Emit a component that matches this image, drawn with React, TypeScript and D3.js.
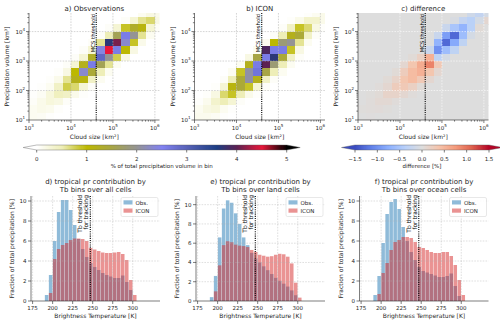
import React from "react";
import * as d3 from "d3";

// log10 bin edges of the 2d histograms
const sizeEdgesLog = [3.0, 3.2, 3.4, 3.6, 3.8, 4.0, 4.2, 4.4, 4.6, 4.8, 5.0, 5.2, 5.4, 5.6, 5.8, 6.0, 6.2];
const volEdgesLog = [1.0, 1.25, 1.5, 1.75, 2.0, 2.25, 2.5, 2.75, 3.0, 3.25, 3.5, 3.75, 4.0, 4.25, 4.5, 4.75];

// % of total precipitation volume per bin, first row = largest volume bin
const obsGrid = [
  [0, 0, 0, 0, 0, 0, 0, 0, 0, 0, 0, 0, 0, 0.1, 0.2, 0.15],
  [0, 0, 0, 0, 0, 0, 0, 0, 0, 0, 0, 0.05, 0.3, 0.6, 0.7, 0.2],
  [0, 0, 0, 0, 0, 0, 0, 0, 0, 0.05, 0.3, 0.9, 1.3, 1.1, 0.3, 0.05],
  [0, 0, 0, 0, 0, 0, 0, 0, 0.05, 0.5, 1.6, 2.6, 2.0, 0.6, 0.1, 0],
  [0, 0, 0, 0, 0, 0, 0, 0.05, 0.6, 3.7, 4.1, 2.3, 0.9, 0.15, 0, 0],
  [0, 0, 0, 0, 0, 0, 0.05, 0.3, 2.4, 4.5, 2.6, 1.0, 0.2, 0, 0, 0],
  [0, 0, 0, 0, 0, 0.05, 0.3, 1.3, 2.9, 2.0, 0.8, 0.2, 0, 0, 0, 0],
  [0, 0, 0, 0, 0.05, 0.3, 1.2, 2.6, 1.6, 0.6, 0.1, 0, 0, 0, 0, 0],
  [0, 0, 0, 0.03, 0.2, 1.0, 2.3, 1.4, 0.5, 0.1, 0, 0, 0, 0, 0, 0],
  [0, 0, 0.03, 0.15, 0.6, 1.2, 1.1, 0.4, 0.1, 0, 0, 0, 0, 0, 0, 0],
  [0, 0.02, 0.1, 0.4, 0.8, 0.7, 0.3, 0.05, 0, 0, 0, 0, 0, 0, 0, 0],
  [0.02, 0.08, 0.25, 0.45, 0.4, 0.15, 0.03, 0, 0, 0, 0, 0, 0, 0, 0, 0],
  [0.05, 0.15, 0.25, 0.2, 0.05, 0, 0, 0, 0, 0, 0, 0, 0, 0, 0, 0],
  [0.1, 0.15, 0.12, 0.03, 0, 0, 0, 0, 0, 0, 0, 0, 0, 0, 0, 0],
  [0.1, 0.08, 0.02, 0, 0, 0, 0, 0, 0, 0, 0, 0, 0, 0, 0, 0],
];

const iconGrid = [
  [0, 0, 0, 0, 0, 0, 0, 0, 0, 0, 0, 0, 0, 0.03, 0.1, 0.15],
  [0, 0, 0, 0, 0, 0, 0, 0, 0, 0, 0, 0.03, 0.15, 0.35, 0.35, 0.15],
  [0, 0, 0, 0, 0, 0, 0, 0, 0, 0, 0.05, 0.4, 0.9, 0.7, 0.2, 0.03],
  [0, 0, 0, 0, 0, 0, 0, 0, 0, 0.05, 0.5, 1.2, 1.4, 0.4, 0.05, 0],
  [0, 0, 0, 0, 0, 0, 0, 0, 0.1, 1.0, 1.8, 2.0, 0.6, 0.1, 0, 0],
  [0, 0, 0, 0, 0, 0, 0, 0.1, 3.9, 2.6, 2.6, 0.9, 0.2, 0, 0, 0],
  [0, 0, 0, 0, 0, 0, 0.2, 1.5, 2.6, 3.7, 1.4, 0.4, 0.05, 0, 0, 0],
  [0, 0, 0, 0, 0, 0.1, 1.2, 2.6, 4.0, 1.8, 0.5, 0.1, 0, 0, 0, 0],
  [0, 0, 0, 0, 0.1, 0.9, 2.1, 2.7, 1.5, 0.5, 0.1, 0, 0, 0, 0, 0],
  [0, 0, 0, 0.05, 0.5, 1.4, 2.1, 1.2, 0.4, 0.05, 0, 0, 0, 0, 0, 0],
  [0, 0, 0.03, 0.3, 1.1, 1.4, 0.9, 0.3, 0.05, 0, 0, 0, 0, 0, 0, 0],
  [0, 0.03, 0.2, 0.7, 0.9, 0.5, 0.15, 0.03, 0, 0, 0, 0, 0, 0, 0, 0],
  [0.03, 0.12, 0.35, 0.5, 0.3, 0.05, 0, 0, 0, 0, 0, 0, 0, 0, 0, 0],
  [0.1, 0.2, 0.25, 0.1, 0.02, 0, 0, 0, 0, 0, 0, 0, 0, 0, 0, 0],
  [0.12, 0.12, 0.08, 0.02, 0, 0, 0, 0, 0, 0, 0, 0, 0, 0, 0, 0],
];

const diffGrid = [
  [0, 0, 0, 0, 0, 0, 0, 0, 0, 0, 0, 0, 0, -0.15, -0.25, -0.1],
  [0, 0, 0, 0, 0, 0, 0, 0, 0, 0, 0, -0.05, -0.25, -0.35, -0.1, 0.1],
  [0, 0, 0, 0, 0, 0, 0, 0, 0, 0, -0.2, -0.5, -0.7, -0.35, 0.05, 0],
  [0, 0, 0, 0, 0, 0, 0, 0, 0, -0.2, -0.9, -1.3, -0.6, -0.1, 0, 0],
  [0, 0, 0, 0, 0, 0, 0, 0, 0, -0.7, -1.3, -0.8, -0.3, 0, 0, 0],
  [0, 0, 0, 0, 0, 0, 0, 0, -0.2, -1.0, -0.6, -0.3, 0, 0, 0, 0],
  [0, 0, 0, 0, 0, 0, 0.05, 0.2, 0.55, -0.3, -0.1, 0, 0, 0, 0, 0],
  [0, 0, 0, 0, 0, 0.1, 0.35, 0.6, 0.9, 0.3, 0, 0, 0, 0, 0, 0],
  [0, 0, 0, 0, 0.05, 0.25, 0.45, 0.55, 0.35, 0.1, 0, 0, 0, 0, 0, 0],
  [0, 0, 0, 0.05, 0.15, 0.35, 0.45, 0.3, 0.1, 0, 0, 0, 0, 0, 0, 0],
  [0, 0, 0.03, 0.1, 0.25, 0.3, 0.2, 0.05, 0, 0, 0, 0, 0, 0, 0, 0],
  [0, 0.02, 0.05, 0.15, 0.15, 0.1, 0.03, 0, 0, 0, 0, 0, 0, 0, 0, 0],
  [0, 0.03, 0.08, 0.08, 0.03, 0, 0, 0, 0, 0, 0, 0, 0, 0, 0, 0],
  [0.02, 0.03, 0.04, 0.02, 0, 0, 0, 0, 0, 0, 0, 0, 0, 0, 0, 0],
  [0, 0.01, 0, 0, 0, 0, 0, 0, 0, 0, 0, 0, 0, 0, 0, 0],
];

// brightness temperature histograms (5 K bins, left edges)
const tbBinStart = [190, 195, 200, 205, 210, 215, 220, 225, 230, 235, 240, 245, 250, 255, 260, 265, 270, 275, 280, 285, 290, 295, 300];
const allObs = [0.6, 2.6, 6.0, 8.9, 10.1, 10.1, 9.1, 7.6, 6.2, 5.2, 4.4, 3.8, 3.4, 3.1, 2.8, 2.6, 2.45, 2.3, 2.3, 2.55, 1.9, 1.1, 0];
const allIcon = [0, 0.8, 4.2, 5.2, 5.6, 5.8, 6.1, 6.25, 6.25, 6.2, 6.0, 5.3, 5.15, 5.0, 4.85, 4.8, 4.8, 4.85, 4.9, 4.7, 4.1, 2.1, 0.6];
const landObs = [0.4, 2.6, 6.6, 9.6, 10.45, 10.2, 9.1, 8.0, 6.6, 5.8, 5.0, 4.4, 4.0, 3.6, 3.2, 2.8, 2.4, 2.1, 1.8, 1.5, 1.1, 0.6, 0];
const landIcon = [0, 1.0, 3.7, 5.8, 6.2, 6.1, 5.85, 5.75, 5.7, 5.6, 5.3, 5.1, 4.8, 4.7, 4.6, 4.65, 4.8, 4.9, 4.85, 4.6, 3.9, 1.9, 0.35];
const oceanObs = [0.6, 2.5, 5.8, 8.7, 9.9, 10.2, 9.2, 7.4, 6.0, 4.9, 4.1, 3.4, 3.0, 2.85, 2.7, 2.55, 2.4, 2.4, 2.5, 2.75, 1.5, 0.5, 0];
const oceanIcon = [0, 0.7, 2.8, 3.8, 5.1, 5.9, 6.1, 6.4, 6.4, 6.3, 5.9, 5.4, 5.3, 5.1, 4.9, 4.8, 4.8, 4.9, 4.9, 4.5, 3.6, 2.1, 0.6];

const mcsThreshold = 4e4;
const tbThreshold = 247;

const volStops = [0, 0.5, 1, 1.5, 2, 2.5, 3, 3.6, 4, 4.5, 5];
const volColors = ["#ffffff", "#eeeeb8", "#bcb800", "#a7a545", "#949494", "#8282f2", "#5862b8", "#1c3e84", "#5c2152", "#e8173a", "#000000"];
const diffStops = [-1.5, -1.125, -0.75, -0.375, 0, 0.375, 0.75, 1.125, 1.5];
const diffColors = ["#3b4cc0", "#6282ea", "#8db0fe", "#b8d0f9", "#dddddd", "#f5c4ac", "#f49a7b", "#de604d", "#b40426"];

const FONT = "'DejaVu Sans', sans-serif";
const INK = "#262626";

const volColor = d3.scaleLinear<string>().domain(volStops).range(volColors).clamp(true);
const diffColor = d3.scaleLinear<string>().domain(diffStops).range(diffColors).clamp(true);

function Pow({ x, y, exp, anchor }: { x: number; y: number; exp: number; anchor: string }) {
  return (
    <text x={x} y={y} textAnchor={anchor} fontSize={5.5} fill={INK}>
      10
      <tspan fontSize={4} dy={-2.6}>
        {exp}
      </tspan>
    </text>
  );
}

function HeatPanel({ left, title, grid, color, gridStroke, id }: any) {
  const top = 13;
  const bottom = 120;
  const width = 130.5;
  const x = d3.scaleLog().domain([1e3, 10 ** 6.11]).range([left, left + width]);
  const y = d3.scaleLog().domain([10, 10 ** 4.63]).range([bottom, top]);
  const n = grid.length;

  const cells: any[] = [];
  grid.forEach((row: number[], r: number) => {
    const j = n - 1 - r;
    row.forEach((v, i) => {
      const x0 = x(10 ** sizeEdgesLog[i]);
      const x1 = x(10 ** sizeEdgesLog[i + 1]);
      const y0 = y(10 ** volEdgesLog[j + 1]);
      const y1 = y(10 ** volEdgesLog[j]);
      cells.push(<rect key={`${r}-${i}`} x={x0} y={y0} width={x1 - x0 + 0.3} height={y1 - y0 + 0.3} fill={color(v)} />);
    });
  });

  const xMajor = [1e3, 1e4, 1e5, 1e6];
  const yMajor = [1e1, 1e2, 1e3, 1e4];
  const xMinor: number[] = [];
  [1e3, 1e4, 1e5, 1e6].forEach((d) => d3.range(2, 10).forEach((m) => m * d <= 10 ** 6.11 && xMinor.push(m * d)));
  const yMinor: number[] = [];
  [1e1, 1e2, 1e3, 1e4].forEach((d) => d3.range(2, 10).forEach((m) => m * d <= 10 ** 4.63 && yMinor.push(m * d)));
  const mx = x(mcsThreshold);

  return (
    <g>
      <defs>
        <clipPath id={id}>
          <rect x={left} y={top} width={width} height={bottom - top} />
        </clipPath>
      </defs>
      <g clipPath={`url(#${id})`} shapeRendering="crispEdges">
        {cells}
      </g>
      <g stroke={gridStroke} strokeWidth={0.6} strokeDasharray="1.6,1.2">
        {xMajor.slice(1).map((d) => (
          <line key={d} x1={x(d)} x2={x(d)} y1={top} y2={bottom} />
        ))}
        {yMajor.slice(1).map((d) => (
          <line key={d} x1={left} x2={left + width} y1={y(d)} y2={y(d)} />
        ))}
      </g>
      <line x1={mx} x2={mx} y1={top} y2={bottom} stroke="#000" strokeWidth={1.1} strokeDasharray="1.1,1.1" />
      <text transform={`translate(${mx - 1.5},${top + 1}) rotate(-90)`} textAnchor="end" fontSize={5.3} fill="#000">
        MCS threshold
      </text>
      <g stroke={INK} strokeWidth={0.6}>
        <line x1={left} x2={left} y1={top} y2={bottom} />
        <line x1={left} x2={left + width} y1={bottom} y2={bottom} />
        {xMajor.map((d) => (
          <line key={d} x1={x(d)} x2={x(d)} y1={bottom} y2={bottom + 3} />
        ))}
        {xMinor.map((d) => (
          <line key={d} x1={x(d)} x2={x(d)} y1={bottom} y2={bottom + 1.6} />
        ))}
        {yMajor.map((d) => (
          <line key={d} x1={left} x2={left - 3} y1={y(d)} y2={y(d)} />
        ))}
        {yMinor.map((d) => (
          <line key={d} x1={left} x2={left - 1.6} y1={y(d)} y2={y(d)} />
        ))}
      </g>
      {xMajor.map((d) => (
        <Pow key={d} x={x(d)} y={130} exp={Math.round(Math.log10(d))} anchor="middle" />
      ))}
      {yMajor.map((d) => (
        <Pow key={d} x={left - 4} y={y(d) + 2} exp={Math.round(Math.log10(d))} anchor="end" />
      ))}
      <text x={left + width / 2} y={10.5} textAnchor="middle" fontSize={7} fill={INK}>
        {title}
      </text>
      <text x={left + width / 2} y={138.5} textAnchor="middle" fontSize={6} fill={INK}>
        Cloud size [km²]
      </text>
      <text transform={`translate(${left - 20},${(top + bottom) / 2}) rotate(-90)`} textAnchor="middle" fontSize={6} fill={INK}>
        Precipitation volume [km³]
      </text>
    </g>
  );
}

function BarPanel({ left, yMax, obs, icon, title1, title2 }: any) {
  const top = 196;
  const bottom = 301;
  const width = 129;
  const x = d3.scaleLinear().domain([173, 334]).range([left, left + width]);
  const y = d3.scaleLinear().domain([0, yMax]).range([bottom, top]);
  const xTicks = [175, 200, 225, 250, 275, 300];
  const yTicks = [0, 2, 4, 6, 8, 10];
  const tx = x(tbThreshold);
  const bars = (vals: number[], fill: string) =>
    tbBinStart.map((b, i) => (
      <rect key={b} x={x(b + 0.3)} width={x(b + 4.7) - x(b + 0.3)} y={y(vals[i])} height={y(0) - y(vals[i])} fill={fill} fillOpacity={0.5} />
    ));
  const lx = left + 90;
  return (
    <g>
      {bars(obs, "#1f77b4")}
      {bars(icon, "#d62728")}
      <g stroke="#b0b0b0" strokeWidth={0.5} strokeDasharray="1.6,1.2" strokeOpacity={0.8}>
        {xTicks.map((d) => (
          <line key={d} x1={x(d)} x2={x(d)} y1={top} y2={bottom} />
        ))}
        {yTicks.slice(1).map((d) => (
          <line key={d} x1={left} x2={left + width} y1={y(d)} y2={y(d)} />
        ))}
      </g>
      <line x1={tx} x2={tx} y1={top} y2={bottom} stroke="#000" strokeWidth={1.1} strokeDasharray="1.1,1.1" />
      <text transform={`translate(${tx - 8},${top - 1}) rotate(-90)`} textAnchor="end" fontSize={6} fill="#000">
        Tb threshold
      </text>
      <text transform={`translate(${tx - 2.2},${top - 1}) rotate(-90)`} textAnchor="end" fontSize={6} fill="#000">
        for tracking
      </text>
      <g stroke={INK} strokeWidth={0.6}>
        <line x1={left} x2={left} y1={top} y2={bottom} />
        <line x1={left} x2={left + width} y1={bottom} y2={bottom} />
        {xTicks.map((d) => (
          <line key={d} x1={x(d)} x2={x(d)} y1={bottom} y2={bottom + 3} />
        ))}
        {yTicks.map((d) => (
          <line key={d} x1={left} x2={left - 3} y1={y(d)} y2={y(d)} />
        ))}
      </g>
      {xTicks.map((d) => (
        <text key={d} x={x(d)} y={309.5} textAnchor="middle" fontSize={5.5} fill={INK}>
          {d}
        </text>
      ))}
      {yTicks.map((d) => (
        <text key={d} x={left - 4.5} y={y(d) + 2} textAnchor="end" fontSize={5.5} fill={INK}>
          {d}
        </text>
      ))}
      <rect x={lx} y={197.5} width={37} height={19} rx={1.5} fill="#fff" fillOpacity={0.85} stroke="#d0d0d0" strokeWidth={0.5} />
      <rect x={lx + 2.5} y={200.3} width={9} height={4.2} fill="#1f77b4" fillOpacity={0.5} />
      <rect x={lx + 2.5} y={208.5} width={9} height={4.2} fill="#d62728" fillOpacity={0.5} />
      <text x={lx + 14.5} y={204.5} fontSize={5.5} fill={INK}>
        Obs.
      </text>
      <text x={lx + 14.5} y={212.7} fontSize={5.5} fill={INK}>
        ICON
      </text>
      <text x={left + width / 2} y={183.5} textAnchor="middle" fontSize={7} fill={INK}>
        {title1}
      </text>
      <text x={left + width / 2} y={191.5} textAnchor="middle" fontSize={7} fill={INK}>
        {title2}
      </text>
      <text x={left + width / 2} y={317.5} textAnchor="middle" fontSize={6} fill={INK}>
        Brightness Temperature [K]
      </text>
      <text transform={`translate(${left - 17},${(top + bottom) / 2}) rotate(-90)`} textAnchor="middle" fontSize={6} fill={INK}>
        Fraction of total precipitation [%]
      </text>
    </g>
  );
}

function Colorbar({ x0, x1, domain, color, ticks, fmt, label, lowColor, highColor }: any) {
  const top = 145;
  const bottom = 150;
  const s = d3.scaleLinear().domain(domain).range([x0, x1]);
  const steps = d3.range(0, 240).map((k) => domain[0] + ((domain[1] - domain[0]) * k) / 240);
  const dv = (domain[1] - domain[0]) / 240;
  const ext = 13.5;
  const mid = (top + bottom) / 2;
  return (
    <g>
      <g shapeRendering="crispEdges">
        {steps.map((v: number, k: number) => (
          <rect key={k} x={s(v)} y={top} width={s(v + dv) - s(v) + 0.4} height={bottom - top} fill={color(v + dv / 2)} />
        ))}
      </g>
      <path d={`M${x0},${top}L${x0 - ext},${mid}L${x0},${bottom}Z`} fill={lowColor} />
      <path d={`M${x1},${top}L${x1 + ext},${mid}L${x1},${bottom}Z`} fill={highColor} />
      <path
        d={`M${x0},${top}L${x1},${top}L${x1 + ext},${mid}L${x1},${bottom}L${x0},${bottom}L${x0 - ext},${mid}Z`}
        fill="none"
        stroke="#555"
        strokeWidth={0.4}
      />
      {ticks.map((t: number) => (
        <g key={t}>
          <line x1={s(t)} x2={s(t)} y1={bottom} y2={bottom + 2.5} stroke={INK} strokeWidth={0.6} />
          <text x={s(t)} y={161} textAnchor="middle" fontSize={5.5} fill={INK}>
            {fmt(t)}
          </text>
        </g>
      ))}
      <text x={(x0 + x1) / 2} y={168} textAnchor="middle" fontSize={5.5} fill={INK}>
        {label}
      </text>
    </g>
  );
}

export default function App() {
  return (
    <svg
      width={500}
      height={324}
      viewBox="0 0 500 324"
      style={{ position: "absolute", left: 0, top: 0, background: "#fff" }}
      fontFamily={FONT}
    >
      <rect width={500} height={324} fill="#fff" />
      <HeatPanel id="ca" left={29} title="a) Obsvervations" grid={obsGrid} color={volColor} gridStroke="#b8b8b8" />
      <HeatPanel id="cb" left={194.5} title="b) ICON" grid={iconGrid} color={volColor} gridStroke="#b8b8b8" />
      <HeatPanel id="cc" left={358} title="c) difference" grid={diffGrid} color={diffColor} gridStroke="#ffffff" />
      <Colorbar
        x0={36.7}
        x1={286.7}
        domain={[0, 5]}
        color={volColor}
        ticks={[0, 1, 2, 3, 4, 5]}
        fmt={(t: number) => String(t)}
        label="% of total precipitation volume in bin"
        lowColor="#ffffff"
        highColor="#000000"
      />
      <Colorbar
        x0={355}
        x1={489}
        domain={[-1.5, 1.5]}
        color={diffColor}
        ticks={[-1.5, -1, -0.5, 0, 0.5, 1, 1.5]}
        fmt={(t: number) => d3.format(".1f")(t).replace("-", "−")}
        label="difference [%]"
        lowColor="#3b4cc0"
        highColor="#b40426"
      />
      <BarPanel left={31} yMax={10.5} obs={allObs} icon={allIcon} title1="d) tropical pr contribution by" title2="Tb bins over all cells" />
      <BarPanel left={196} yMax={10.9} obs={landObs} icon={landIcon} title1="e) tropical pr contribution by" title2="Tb bins over land cells" />
      <BarPanel left={359.5} yMax={10.5} obs={oceanObs} icon={oceanIcon} title1="f) tropical pr contribution by" title2="Tb bins over ocean cells" />
    </svg>
  );
}
